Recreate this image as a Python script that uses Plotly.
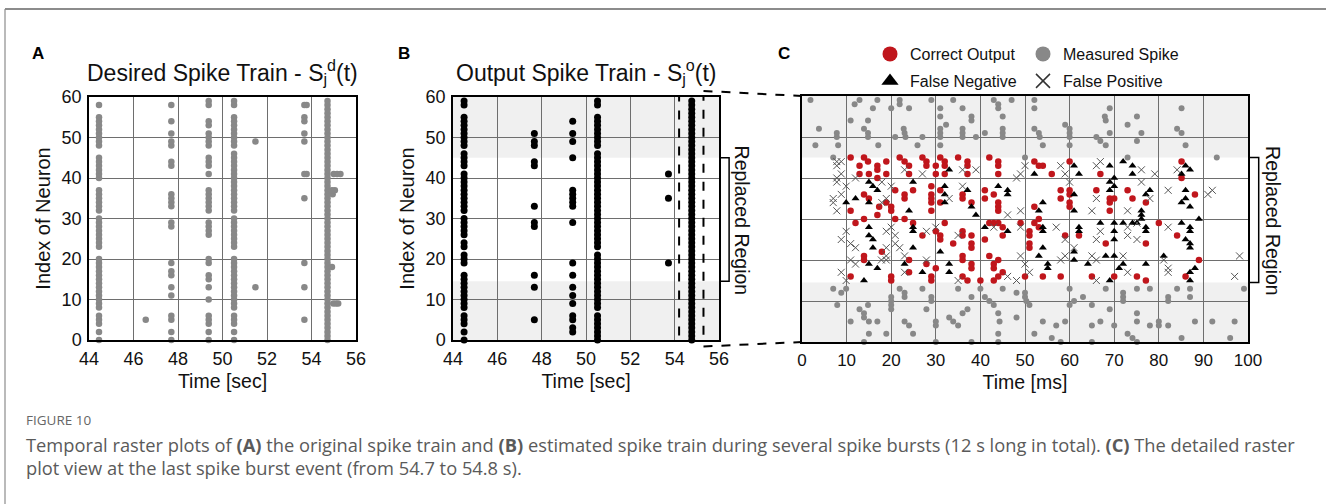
import plotly.graph_objects as go

W, H = 1326, 504
FONT = "Arial, Liberation Sans, sans-serif"

# ---------------- Panel A: desired spike train ----------------
a_col_times = [44.45, 47.7, 49.38, 50.52, 53.68, 54.72]
a_col_neurons = [
    [0, 2, 4, 5, 6, 8, 9, 10, 11, 12, 13, 14, 15, 16, 17, 18, 19, 20, 23, 24, 25, 26, 27, 28, 29, 30,
     32, 33, 34, 35, 36, 37, 40, 41, 42, 43, 44, 45, 48, 49, 50, 51, 52, 53, 54, 55, 58],
    [0, 2, 5, 6, 11, 13, 16, 17, 19, 28, 29, 33, 34, 35, 36, 43, 44, 48, 49, 51, 54, 58],
    [0, 2, 4, 5, 6, 10, 13, 15, 16, 19, 20, 26, 27, 28, 29, 32, 33, 34, 35, 36, 37, 41, 43, 44, 45,
     48, 49, 50, 51, 53, 54, 58, 59],
    [0, 2, 4, 5, 6, 8, 9, 10, 11, 12, 13, 14, 15, 16, 17, 18, 19, 20, 23, 24, 25, 26, 27, 28, 29, 30,
     32, 33, 34, 35, 36, 37, 38, 39, 40, 41, 42, 43, 44, 45, 46, 48, 49, 50, 51, 52, 53, 54, 55, 58, 59],
    [5, 13, 19, 35, 41, 49, 51, 54, 55, 58],
    [0, 1, 2, 3, 4, 5, 6, 7, 8, 9, 10, 11, 12, 13, 14, 15, 16, 17, 18, 19, 20, 21, 22, 23, 24, 25, 26,
     27, 28, 29, 30, 31, 32, 33, 34, 35, 36, 37, 38, 39, 40, 41, 42, 43, 44, 45, 46, 47, 48, 49, 50,
     51, 52, 53, 54, 55, 56, 57, 58, 59],
]
a_extra_t = [46.55, 51.48, 51.48, 53.78, 53.78, 54.92, 54.98, 55.1, 55.2, 54.95, 55.05, 55.0, 55.15, 55.3, 54.92]
a_extra_n = [5, 49, 13, 58, 41, 18, 9, 9, 9, 36, 37, 41, 41, 41, 37]

# ---------------- Panel B: output spike train ----------------
b_col_times = [44.5, 47.67, 49.4, 50.52, 53.72, 54.77]
b_col_neurons = [
    [0, 2, 4, 5, 6, 8, 9, 10, 11, 12, 13, 14, 15, 16, 19, 20, 21, 23, 24, 26, 27, 28, 29, 30, 32, 33,
     34, 35, 36, 37, 38, 39, 40, 41, 43, 44, 45, 46, 48, 49, 50, 51, 52, 53, 54, 55, 58, 59],
    [5, 13, 16, 28, 29, 33, 43, 44, 48, 49, 51],
    [2, 3, 5, 6, 9, 11, 13, 16, 19, 29, 33, 34, 35, 36, 37, 45, 49, 51, 54],
    [0, 1, 2, 3, 4, 5, 6, 8, 9, 10, 11, 12, 13, 14, 15, 16, 17, 18, 19, 20, 21, 23, 24, 25, 26, 27, 28,
     29, 30, 31, 32, 33, 34, 35, 36, 37, 38, 39, 40, 41, 42, 43, 44, 45, 46, 48, 49, 50, 51, 52, 53,
     54, 55, 58, 59],
    [19, 35, 41],
    [0, 1, 2, 3, 4, 5, 6, 7, 8, 9, 10, 11, 12, 13, 14, 15, 16, 17, 18, 19, 20, 21, 22, 23, 24, 25, 26,
     27, 28, 29, 30, 31, 32, 33, 34, 35, 36, 37, 38, 39, 40, 41, 42, 43, 44, 45, 46, 47, 48, 49, 50,
     51, 52, 53, 54, 55, 56, 57, 58, 59],
]
zoom_window = [54.2, 55.3]          # seconds, dashed box in B
replaced_region = [14.5, 45]        # neuron index range

# ---------------- Panel C: detail of last burst (t in ms, neuron index) ----------------
c_measured = [
    (1.9, 59), (3.8, 52), (3.0, 48), (7.8, 51), (7.8, 50), (8.1, 48), (7.0, 45), (10.9, 54), (11.8, 58),
    (12.9, 59), (13.9, 52), (14.8, 54), (14.8, 51), (14.8, 50), (15.9, 57), (16.9, 59), (17.1, 48),
    (20.0, 57), (20.9, 50), (21.9, 59), (21.9, 58), (22.8, 52), (23.0, 51), (23.2, 50), (24.0, 57),
    (27.0, 50), (25.9, 48), (29.0, 59), (31.0, 57), (31.0, 55), (31.0, 52), (31.0, 51), (31.0, 50),
    (31.0, 48), (32.3, 53), (33.9, 59), (36.0, 57), (36.0, 52), (36.0, 51), (36.0, 50), (38.0, 55),
    (38.0, 54), (39.0, 50), (41.0, 51), (43.0, 59), (44.0, 58), (44.0, 57), (45.0, 55), (45.0, 52),
    (45.0, 51), (45.0, 50), (47.0, 59), (50.0, 45), (52.1, 59), (52.1, 57), (52.1, 52), (53.1, 51),
    (53.3, 50), (54.0, 48), (59.0, 53), (60.0, 52), (60.0, 51), (60.0, 50), (60.0, 48), (66.0, 50),
    (66.9, 49), (67.9, 55), (68.1, 54), (69.0, 57), (69.0, 51), (68.1, 48), (73.0, 53), (73.0, 45),
    (75.1, 55), (75.1, 49), (76.1, 51), (85.1, 57), (84.1, 52), (85.1, 51), (86.0, 48), (93.0, 45),
    (7.0, 13), (7.9, 9), (8.8, 12), (9.9, 13), (10.9, 5), (12.9, 8), (13.9, 7), (13.9, 6), (14.8, 9),
    (15.0, 5), (13.9, 0), (15.0, 2), (16.9, 5), (18.9, 2), (20.0, 11), (20.0, 10), (20.0, 9), (20.0, 8),
    (21.9, 13), (23.0, 12), (23.0, 11), (23.0, 5), (24.0, 4), (24.9, 2), (27.0, 13), (27.9, 8),
    (29.0, 11), (29.0, 10), (30.0, 5), (30.0, 4), (30.0, 0), (33.0, 6), (33.9, 5), (35.0, 4), (35.0, 13),
    (36.0, 7), (37.1, 8), (38.0, 11), (38.0, 0), (40.0, 13), (41.0, 11), (42.0, 10), (43.0, 9), (44.0, 7),
    (44.3, 5), (44.0, 2), (44.0, 0), (45.0, 13), (48.1, 12), (48.1, 6), (50.0, 12), (50.0, 11), (50.3, 10),
    (51.0, 9), (52.1, 2), (54.0, 5), (56.0, 1), (57.0, 4), (58.0, 0), (59.0, 5), (60.0, 13), (60.0, 9),
    (61.0, 10), (63.0, 11), (65.0, 9), (65.0, 4), (65.0, 0), (66.9, 5), (68.1, 13), (69.0, 8), (70.0, 4),
    (72.0, 12), (72.0, 11), (72.0, 10), (73.0, 2), (74.1, 1), (75.1, 7), (75.1, 5), (75.1, 0), (78.0, 4),
    (80.0, 5), (80.0, 4), (82.1, 11), (82.1, 10), (84.1, 13), (87.0, 13), (87.0, 11), (88.1, 5), (92.0, 5),
    (97.0, 5), (96.0, 1), (99.1, 13), (85.1, 1), (78.0, 13), (82.1, 4), (75.1, 13),
]
c_correct = [
    (10.9, 45), (13.9, 45), (14.8, 44), (12.9, 43), (12.9, 41), (15.0, 41), (16.9, 43), (16.9, 42),
    (16.9, 40), (18.9, 44), (18.9, 41), (21.9, 45), (23.0, 44), (24.0, 43), (24.0, 41), (20.9, 37),
    (23.0, 36), (23.0, 35), (20.0, 33), (20.0, 32), (20.9, 30), (23.0, 30), (24.9, 37), (27.0, 45),
    (27.9, 44), (27.9, 43), (29.0, 38), (29.0, 36), (29.0, 35), (29.0, 34), (29.0, 32), (30.0, 43),
    (30.0, 41), (31.0, 45), (32.0, 44), (32.0, 43), (32.0, 41), (31.0, 37), (31.0, 34), (35.0, 45),
    (37.1, 44), (37.1, 43), (37.1, 41), (36.0, 36), (36.0, 35), (38.0, 34), (41.0, 37), (41.0, 35),
    (42.0, 45), (44.0, 44), (44.0, 43), (44.0, 41), (43.0, 36), (44.0, 34), (44.0, 33), (44.0, 32),
    (43.0, 29), (44.0, 29), (42.0, 29), (45.0, 28), (41.0, 25), (38.0, 26), (38.0, 24), (38.0, 23),
    (31.0, 26), (31.0, 25), (30.0, 27), (32.0, 29), (36.0, 27), (36.0, 26), (33.9, 24), (36.0, 21),
    (36.0, 20), (38.0, 19), (38.0, 18), (40.0, 15), (42.0, 21), (43.0, 19), (43.0, 18), (44.0, 20),
    (44.0, 16), (43.0, 15), (45.0, 17), (49.0, 29), (51.0, 27), (51.0, 26), (51.0, 24), (51.0, 23),
    (52.1, 29), (53.1, 30), (53.1, 28), (52.1, 33), (53.1, 43), (52.1, 44), (54.0, 43), (56.0, 41),
    (58.0, 37), (58.0, 35), (60.0, 44), (60.0, 37), (60.0, 36), (60.0, 34), (60.0, 33), (59.0, 26),
    (62.1, 26), (50.0, 16), (54.0, 16), (58.0, 16), (65.0, 16), (70.0, 16), (75.1, 16), (77.1, 15),
    (66.9, 41), (66.0, 37), (69.0, 35), (69.0, 34), (70.0, 35), (73.0, 37), (74.1, 35), (77.1, 34),
    (80.0, 29), (77.1, 24), (84.1, 26), (85.1, 44), (85.1, 40), (88.1, 36), (89.0, 20), (86.0, 16),
    (68.1, 24), (69.0, 32), (24.9, 29), (27.0, 26), (27.9, 19), (20.0, 16), (20.0, 15), (24.0, 20),
    (24.0, 17), (29.0, 16), (29.0, 15), (30.0, 18), (10.9, 16), (12.0, 29), (13.9, 30), (13.9, 21),
    (13.9, 20), (10.9, 32), (13.9, 36), (15.0, 35), (17.3, 33), (18.9, 34), (16.9, 31), (17.9, 22),
    (37.1, 15), (36.0, 16), (45.0, 26),
]
c_false_negative = [
    (9.9, 34), (12.0, 35), (15.0, 39), (15.9, 38), (16.9, 37), (15.0, 34), (15.0, 28), (15.0, 26),
    (15.9, 25), (15.9, 23), (15.0, 19), (16.9, 18), (13.9, 15), (24.9, 39), (24.0, 32), (24.9, 28),
    (24.9, 27), (24.9, 23), (23.0, 19), (27.0, 17), (33.0, 42), (32.0, 38), (32.0, 36), (32.0, 34),
    (31.0, 22), (33.0, 19), (33.0, 17), (37.1, 37), (38.0, 33), (39.0, 31), (44.0, 38), (46.1, 37),
    (46.1, 36), (41.0, 28), (46.1, 27), (52.1, 41), (54.0, 34), (53.1, 32), (54.0, 28), (54.0, 27),
    (54.0, 23), (55.1, 19), (55.1, 18), (53.1, 21), (61.0, 43), (62.1, 41), (61.0, 36), (61.0, 32),
    (62.1, 28), (62.1, 27), (61.0, 22), (61.0, 20), (64.1, 19), (69.0, 43), (72.0, 44), (74.1, 43),
    (74.1, 41), (69.0, 39), (70.0, 40), (70.0, 38), (69.0, 37), (70.0, 29), (70.0, 27), (70.0, 25),
    (70.0, 21), (68.1, 21), (71.1, 18), (69.0, 15), (72.0, 19), (76.1, 32), (76.1, 31), (76.1, 30),
    (77.1, 28), (77.1, 27), (77.1, 36), (78.0, 37), (75.1, 29), (77.1, 19), (81.1, 21), (86.0, 43),
    (87.0, 42), (85.1, 41), (86.0, 37), (85.1, 34), (86.0, 35), (87.0, 33), (89.0, 30), (85.1, 29),
    (87.0, 28), (87.0, 27), (86.0, 25), (87.0, 24), (87.0, 23), (88.1, 18), (87.0, 17), (87.0, 15),
    (66.9, 29), (72.0, 29), (74.1, 29),
]
c_false_positive = [
    (7.8, 44), (8.8, 44), (7.8, 43), (8.8, 41), (7.8, 40), (7.8, 39), (9.9, 38), (8.8, 36), (7.0, 35),
    (7.0, 34), (7.8, 32), (12.0, 40), (17.9, 39), (18.9, 35), (17.9, 34), (20.0, 38), (23.0, 42),
    (27.0, 41), (33.0, 35), (36.0, 38), (39.0, 42), (36.0, 42), (46.1, 31), (49.0, 32), (48.1, 40),
    (49.0, 41), (50.0, 43), (58.0, 43), (59.0, 41), (60.0, 39), (66.0, 43), (66.9, 44), (66.0, 35),
    (65.0, 32), (73.0, 32), (76.1, 42), (76.1, 39), (78.0, 35), (79.1, 41), (84.1, 42), (82.1, 37),
    (92.0, 37), (91.0, 36), (8.8, 25), (9.9, 27), (10.9, 24), (12.0, 23), (10.9, 20), (12.0, 19),
    (8.8, 17), (18.9, 27), (20.0, 28), (20.9, 26), (20.9, 24), (21.9, 23), (18.9, 23), (18.9, 21),
    (18.9, 20), (23.0, 21), (23.0, 17), (27.9, 27), (27.9, 20), (30.0, 28), (35.0, 26), (35.0, 15),
    (43.0, 28), (46.1, 16), (48.1, 15), (49.0, 21), (50.0, 19), (51.0, 17), (49.0, 28), (58.0, 20),
    (59.0, 21), (59.0, 25), (57.0, 28), (61.0, 23), (65.0, 21), (66.0, 20), (66.0, 25), (66.9, 27),
    (66.0, 15), (72.0, 21), (73.0, 28), (73.0, 26), (75.1, 25), (75.1, 29), (73.0, 17), (82.1, 28),
    (81.1, 20), (82.1, 18), (82.1, 17), (98.1, 21), (97.0, 16), (9.9, 15), (17.8, 20),
]

GRAY = "#888888"
RED = "#c0161c"


def columns_to_xy(times, neuron_lists):
    xs, ys = [], []
    for t, ns in zip(times, neuron_lists):
        xs += [t] * len(ns)
        ys += list(ns)
    return xs, ys


def unzip(pairs):
    return [p[0] for p in pairs], [p[1] for p in pairs]


fig = go.Figure()

ax_, ay_ = columns_to_xy(a_col_times, a_col_neurons)
fig.add_trace(go.Scatter(x=ax_ + a_extra_t, y=ay_ + a_extra_n, mode="markers",
                         marker=dict(size=6.5, color=GRAY), xaxis="x", yaxis="y",
                         showlegend=False, cliponaxis=False))
bx_, by_ = columns_to_xy(b_col_times, b_col_neurons)
fig.add_trace(go.Scatter(x=bx_, y=by_, mode="markers", marker=dict(size=7, color="black"),
                         xaxis="x2", yaxis="y2", showlegend=False, cliponaxis=False))

mx, my = unzip(c_measured)
fig.add_trace(go.Scatter(x=mx, y=my, mode="markers", marker=dict(size=6, color=GRAY),
                         xaxis="x3", yaxis="y3", showlegend=False, cliponaxis=False))
cx, cy = unzip(c_correct)
fig.add_trace(go.Scatter(x=cx, y=cy, mode="markers", marker=dict(size=6.5, color=RED),
                         xaxis="x3", yaxis="y3", showlegend=False))
nx, ny = unzip(c_false_negative)
fig.add_trace(go.Scatter(x=nx, y=ny, mode="markers",
                         marker=dict(size=7, color="black", symbol="triangle-up"),
                         xaxis="x3", yaxis="y3", showlegend=False))
fx, fy = unzip(c_false_positive)
fig.add_trace(go.Scatter(x=fx, y=fy, mode="markers",
                         marker=dict(size=7, color="#555555", symbol="x-thin-open",
                                     line=dict(width=1, color="#555555")),
                         xaxis="x3", yaxis="y3", showlegend=False))

# legend-only entries (larger symbols as in the figure key)
legend_items = [
    ("Correct Output", dict(size=15, color=RED, symbol="circle"), "legend"),
    ("Measured Spike", dict(size=15, color=GRAY, symbol="circle"), "legend2"),
    ("False Negative", dict(size=15, color="black", symbol="triangle-up"), "legend3"),
    ("False Positive", dict(size=14, color="#333333", symbol="x-thin-open",
                            line=dict(width=1.5, color="#333333")), "legend4"),
]
for name, mk, lg in legend_items:
    fig.add_trace(go.Scatter(x=[None], y=[None], mode="markers", marker=mk, name=name,
                             legend=lg, xaxis="x3", yaxis="y3", showlegend=True))

# ---------------- layout ----------------
DOM_A = [89 / W, 356 / W]
DOM_B = [453 / W, 719 / W]
DOM_C = [802 / W, 1248 / W]
DOM_Y = [1 - 340 / H, 1 - 97 / H]
DOM_YC = [1 - 342 / H, 1 - 96 / H]

grid = dict(showgrid=True, gridcolor="#6e6e6e", gridwidth=1, zeroline=False,
            showline=True, linecolor="black", linewidth=1.5, mirror=True, ticks="",
            tickfont=dict(size=18, color="#111"), fixedrange=True, automargin=False)


def xaxis(domain, anchor, rng, dtick, title, tsize=18):
    d = dict(grid)
    d.update(domain=domain, anchor=anchor, range=rng, dtick=dtick, tick0=0,
             tickfont=dict(size=tsize, color="#111"), ticklabelstandoff=2,
             title=dict(text=title, font=dict(size=19.5, color="#111"), standoff=6))
    return d


def yaxis(domain, anchor, title=None, labels=True):
    d = dict(grid)
    d.update(domain=domain, anchor=anchor, range=[0, 60], dtick=10, tick0=0,
             showticklabels=labels, ticklabelstandoff=2)
    if title:
        d["title"] = dict(text=title, font=dict(size=20, color="#111"), standoff=6)
    return d


shapes = []
# shaded (non-replaced) regions in B and C, plus the bracket marking the replaced region
for xa, ya, bx in (("x2", "y2", 1.038), ("x3", "y3", 1.024)):
    for y0, y1 in ((replaced_region[1], 60), (0, replaced_region[0])):
        shapes.append(dict(type="rect", xref=f"{xa} domain", yref=ya, x0=0, x1=1, y0=y0, y1=y1,
                           fillcolor="#f0f0f0", line=dict(width=0), layer="below"))
    shapes.append(dict(type="path", xref=f"{xa} domain", yref=ya,
                       path=(f"M 1.004 {replaced_region[1]} L {bx} {replaced_region[1]} "
                             f"L {bx} {replaced_region[0]} L 1.004 {replaced_region[0]}"),
                       line=dict(color="black", width=1.5)))

# dashed zoom box in B
box_y = [-1.6, 61.5]
shapes.append(dict(type="rect", xref="x2", yref="y2", x0=zoom_window[0], x1=zoom_window[1],
                   y0=box_y[0], y1=box_y[1], line=dict(color="black", width=2, dash="dash")))


def b_to_paper(t, n):
    px = DOM_B[0] + (t - 44) / 12 * (DOM_B[1] - DOM_B[0])
    py = DOM_Y[0] + n / 60 * (DOM_Y[1] - DOM_Y[0])
    return px, py


for n_box, yc in ((box_y[1], DOM_YC[1]), (box_y[0], DOM_YC[0])):
    px, py = b_to_paper(zoom_window[1], n_box)
    shapes.append(dict(type="line", xref="paper", yref="paper", x0=px, y0=py, x1=DOM_C[0], y1=yc,
                       line=dict(color="black", width=2, dash="dash")))

# card frame
shapes.append(dict(type="line", xref="paper", yref="paper", x0=5 / W, x1=1, y0=1 - 9 / H, y1=1 - 9 / H,
                   line=dict(color="#8c8c8c", width=2)))
shapes.append(dict(type="line", xref="paper", yref="paper", x0=5 / W, x1=5 / W, y0=0, y1=1 - 9 / H,
                   line=dict(color="#8c8c8c", width=1.2)))


def ann(text, x, y, size, xanchor="center", family=None, color="#111", **kw):
    f = dict(size=size, color=color)
    if family:
        f["family"] = family
    d = dict(text=text, x=x, y=y, xref=kw.pop("xref", "paper"), yref=kw.pop("yref", "paper"),
             showarrow=False, xanchor=xanchor, yanchor="middle", font=f)
    d.update(kw)
    return d


CAP = "Open Sans, sans-serif"
annotations = [
    ann("<b>A</b>", 38 / W, 1 - 54 / H, 17, color="black"),
    ann("<b>B</b>", 404 / W, 1 - 54 / H, 17, color="black"),
    ann("<b>C</b>", 784 / W, 1 - 54 / H, 17, color="black"),
    ann("Desired Spike Train - S<sub>j</sub><sup>d</sup>(t)", sum(DOM_A) / 2, 1 - 72 / H, 23),
    ann("Output Spike Train - S<sub>j</sub><sup>o</sup>(t)", sum(DOM_B) / 2, 1 - 72 / H, 23),
    ann("Replaced Region", 1.09, 29.5, 19.5, textangle=90, xref="x2 domain", yref="y2"),
    ann("Replaced Region", 1.056, 29.5, 19.5, textangle=90, xref="x3 domain", yref="y3"),
    ann("FIGURE 10", 24 / W, 1 - 420 / H, 13.5, xanchor="left", family=CAP, color="#666"),
    ann("Temporal raster plots of <b>(A)</b> the original spike train and <b>(B)</b> estimated spike "
        "train during several spike bursts (12 s long in total). <b>(C)</b> The detailed raster",
        24 / W, 1 - 444 / H, 18.3, xanchor="left", family=CAP, color="#5a5a5a"),
    ann("plot view at the last spike burst event (from 54.7 to 54.8 s).",
        24 / W, 1 - 467 / H, 18.3, xanchor="left", family=CAP, color="#5a5a5a"),
]

leg_common = dict(orientation="h", xanchor="left", yanchor="middle", bgcolor="rgba(0,0,0,0)",
                  font=dict(size=16, color="#111"), itemsizing="trace", borderwidth=0)
legends = {
    "legend": dict(leg_common, x=870 / W, y=1 - 54 / H),
    "legend2": dict(leg_common, x=1023 / W, y=1 - 54 / H),
    "legend3": dict(leg_common, x=870 / W, y=1 - 81 / H),
    "legend4": dict(leg_common, x=1023 / W, y=1 - 81 / H),
}

fig.update_layout(
    width=W, height=H, margin=dict(l=0, r=0, t=0, b=0, pad=0, autoexpand=False),
    paper_bgcolor="white", plot_bgcolor="white",
    font=dict(family=FONT, color="#111"),
    xaxis=xaxis(DOM_A, "y", [44, 56], 2, "Time [sec]"),
    yaxis=yaxis(DOM_Y, "x", "Index of Neuron"),
    xaxis2=xaxis(DOM_B, "y2", [44, 56], 2, "Time [sec]"),
    yaxis2=yaxis(DOM_Y, "x2", "Index of Neuron"),
    xaxis3=xaxis(DOM_C, "y3", [0, 100], 10, "Time [ms]", tsize=17),
    yaxis3=yaxis(DOM_YC, "x3", None, labels=False),
    shapes=shapes, annotations=annotations,
    **legends,
)

# remove the browser's default page margin so the figure fills the window exactly
fig.write_html("out.html", config={"displayModeBar": False},
               post_script="document.body.style.margin='0px';")
